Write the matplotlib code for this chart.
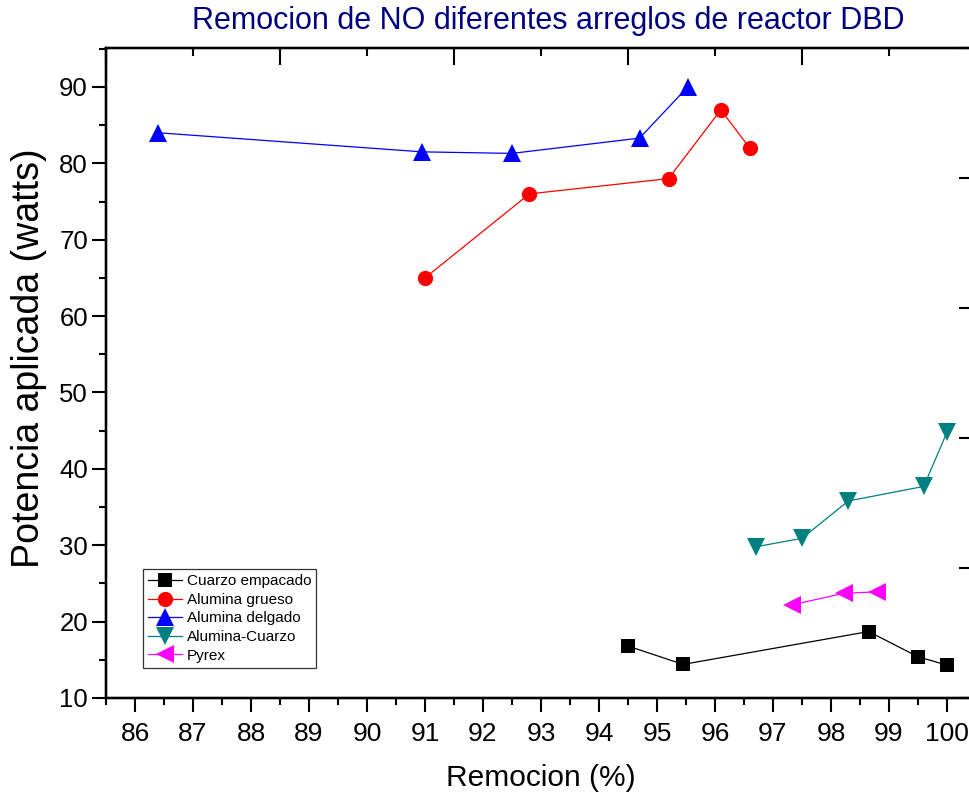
import matplotlib
matplotlib.use("Agg")
import matplotlib.pyplot as plt
from matplotlib.ticker import MultipleLocator

plt.rcParams['font.family'] = ['Liberation Sans', 'DejaVu Sans']

# Removal (%) vs applied power (W) for each DBD reactor arrangement
cuarzo_x = [94.5, 95.45, 98.65, 99.5, 100.0]
cuarzo_y = [16.8, 14.4, 18.7, 15.4, 14.3]

grueso_x = [91.0, 92.8, 95.2, 96.1, 96.6]
grueso_y = [65.0, 76.0, 78.0, 87.0, 82.0]

delgado_x = [86.4, 90.95, 92.5, 94.7, 95.53]
delgado_y = [84.0, 81.5, 81.3, 83.3, 90.0]

alcuarzo_x = [96.7, 97.5, 98.3, 99.6, 100.0]
alcuarzo_y = [29.8, 30.9, 35.8, 37.7, 44.8]

pyrex_x = [97.33, 98.22, 98.8]
pyrex_y = [22.2, 23.7, 23.9]

x_ticks = list(range(86, 101))
y_ticks = list(range(10, 91, 10))

fig = plt.figure(figsize=(9.69, 7.93), dpi=100)
ax = fig.add_axes([0.1094, 0.1198, 1.0072 - 0.1094, 0.9395 - 0.1198])

series = [
    (cuarzo_x, cuarzo_y, 'Cuarzo empacado', '#000000', 's', 10),
    (grueso_x, grueso_y, 'Alumina grueso', '#FF0000', 'o', 11),
    (delgado_x, delgado_y, 'Alumina delgado', '#0000FF', '^', 12.5),
    (alcuarzo_x, alcuarzo_y, 'Alumina-Cuarzo', '#008080', 'v', 12.5),
    (pyrex_x, pyrex_y, 'Pyrex', '#FF00FF', '<', 12.5),
]
for xs, ys, name, color, mk, ms in series:
    ax.plot(xs, ys, color=color, lw=0.9, marker=mk, markersize=ms,
            markeredgewidth=0, label=name, clip_on=False)

ax.set_xlim(85.5, 100.5)
ax.set_ylim(10, 95.1)
ax.set_xticks(x_ticks)
ax.set_yticks(y_ticks)
ax.xaxis.set_minor_locator(MultipleLocator(0.5))
ax.yaxis.set_minor_locator(MultipleLocator(5))
ax.tick_params(which='major', direction='out', length=10, width=1.5,
               top=False, right=False)
ax.tick_params(axis='x', which='major', pad=7, labelsize=19)
ax.tick_params(axis='y', which='major', pad=3, labelsize=18.5)
ax.tick_params(which='minor', direction='out', length=5, width=1.5,
               top=False, right=False)
for sp in ax.spines.values():
    sp.set_linewidth(1.6)

# Frame axes on top and right with their own 0-5 scale, inward ticks
axr = ax.twinx()
axr.set_ylim(0, 5)
axr.yaxis.set_major_locator(MultipleLocator(1))
axr.tick_params(which='major', direction='in', length=12, width=1.5, labelright=False)
axr.tick_params(which='minor', right=False)
axt = ax.twiny()
axt.set_xlim(0, 5)
axt.xaxis.set_major_locator(MultipleLocator(1))
axt.xaxis.set_minor_locator(MultipleLocator(0.5))
axt.tick_params(which='major', direction='in', length=12, width=1.5, labeltop=False)
axt.tick_params(which='minor', direction='in', length=6, width=1.5)
for a in (axr, axt):
    for sp in a.spines.values():
        sp.set_linewidth(1.6)

ax.set_xlabel('Remocion (%)', fontsize=21.5, labelpad=13)
ax.set_ylabel('Potencia aplicada (watts)', fontsize=27)
ax.yaxis.set_label_coords(47 / 969, 1 - 358 / 793, transform=fig.transFigure)
fig.text(548 / 969, 1 - 21 / 793, 'Remocion de NO diferentes arreglos de reactor DBD',
         ha='center', va='center', fontsize=22, color='#000080')

leg = ax.legend(loc='lower left', bbox_to_anchor=(143 / 969, (793 - 668) / 793),
                bbox_transform=fig.transFigure, borderaxespad=0, fontsize=11,
                frameon=True, fancybox=False, borderpad=0.35, labelspacing=0.3,
                handlelength=2.2, handletextpad=0.3, markerscale=1.0)
leg.get_frame().set_edgecolor('black')
leg.get_frame().set_linewidth(0.9)

fig.savefig('out.png', dpi=100)
